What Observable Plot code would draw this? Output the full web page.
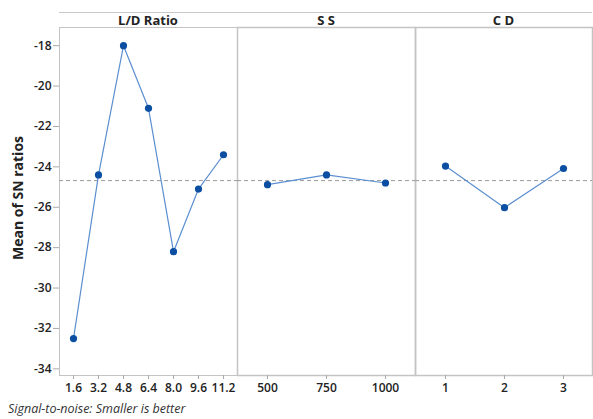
<!DOCTYPE html>
<html>
<head>
<meta charset="utf-8">
<script src="https://cdn.jsdelivr.net/npm/d3@7"></script>
<script src="https://cdn.jsdelivr.net/npm/@observablehq/plot@0.6"></script>
<style>
  body { margin: 0; background: #fff; }
  #wrap { position: relative; width: 593px; height: 419px; font-family: "Open Sans", sans-serif; }
  .plot { position: absolute; top: 0; }
  .hdr { position: absolute; top: 12px; height: 15px; line-height: 14px; text-align: center;
         font-weight: 700; font-size: 13px; color: #222; box-sizing: border-box;
         border-top: 1px solid #c8c8c8; }
  #ylab { position: absolute; left: 17px; top: 198px; transform: translate(-50%, -50%) rotate(-90deg);
          white-space: nowrap; font-weight: 700; font-size: 14px; color: #222; }
  #cap { position: absolute; left: 8px; top: 400px; font-style: italic; font-size: 12.5px; color: #333; white-space: nowrap; }
</style>
</head>
<body>
<div id="wrap"></div>
<script>
const factors = ["L/D Ratio", "S S", "C D"];
const ldLevels = ["1.6", "3.2", "4.8", "6.4", "8.0", "9.6", "11.2"];
const ldSN = [-32.5, -24.4, -18.0, -21.1, -28.2, -25.1, -23.4];
const ssLevels = ["500", "750", "1000"];
const ssSN = [-24.88, -24.4, -24.8];
const cdLevels = ["1", "2", "3"];
const cdSN = [-23.96, -26.02, -24.08];
const yTicks = [-34, -32, -30, -28, -26, -24, -22, -20, -18];
const caption = "Signal-to-noise: Smaller is better";
const yLabel = "Mean of SN ratios";

const overallMean = d3.mean([...ldSN, ...ssSN, ...cdSN]);
const panels = [
  {name: factors[0], levels: ldLevels, values: ldSN},
  {name: factors[1], levels: ssLevels, values: ssSN},
  {name: factors[2], levels: cdLevels, values: cdSN}
];

const wrap = document.getElementById("wrap");
const H = 400, MT = 27, MB = 25;
const layout = [
  {left: 0, width: 237, ml: 59},
  {left: 237, width: 178, ml: 0},
  {left: 415, width: 178, ml: 0}
];

panels.forEach((p, i) => {
  const L = layout[i];
  const data = p.levels.map((lv, j) => ({level: lv, sn: p.values[j]}));
  const marks = [
    Plot.frame({stroke: "#c4c4c4", strokeWidth: i === 0 ? 1 : 1.5}),
    Plot.ruleY([overallMean], {stroke: "#9a9a9a", strokeDasharray: "4,3", strokeWidth: 1}),
    Plot.line(data, {x: "level", y: "sn", stroke: "#5b8fd0", strokeWidth: 1.2}),
    Plot.dot(data, {x: "level", y: "sn", r: 3.6, fill: "#0b4ea2", stroke: "none"}),
    Plot.axisX({tickSize: 4, stroke: "#aaa", tickPadding: 4, fontSize: 12, fontWeight: 600, fill: "#222", label: null})
  ];
  if (i === 0) {
    marks.push(Plot.axisY(yTicks, {tickSize: 6, stroke: "#aaa", tickPadding: 2, fontSize: 12, fontWeight: 600, fill: "#222", label: null, tickFormat: d => String(d)}));
  }
  const chart = Plot.plot({
    width: L.width, height: H,
    marginTop: MT, marginBottom: MB, marginLeft: L.ml, marginRight: i === 2 ? 1 : 0,
    style: {fontFamily: "Open Sans, sans-serif", background: "transparent", overflow: "visible"},
    x: {type: "point", domain: p.levels, padding: 0.5, label: null, axis: null},
    y: {domain: [-34.33, -17.1], label: null, axis: null},
    marks
  });
  chart.classList.add("plot");
  chart.style.left = L.left + "px";
  wrap.appendChild(chart);

  const h = document.createElement("div");
  h.className = "hdr";
  h.textContent = p.name;
  h.style.left = (L.left + L.ml) + "px";
  h.style.width = (L.width - L.ml - (i === 2 ? 1 : 0)) + "px";
  wrap.appendChild(h);
});

const yl = document.createElement("div");
yl.id = "ylab"; yl.textContent = yLabel;
wrap.appendChild(yl);
const cap = document.createElement("div");
cap.id = "cap"; cap.textContent = caption;
wrap.appendChild(cap);
</script>
</body>
</html>
